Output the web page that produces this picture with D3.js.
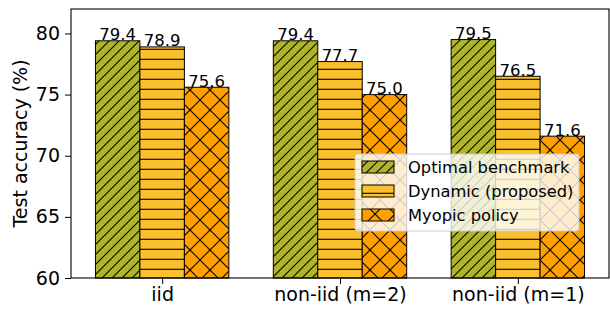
<!DOCTYPE html>
<html>
<head>
<meta charset="utf-8">
<script src="https://cdn.jsdelivr.net/npm/d3@7"></script>
<style>
  body { margin: 0; background: #fff; }
  svg { display: block; font-family: "DejaVu Sans", sans-serif; }
</style>
</head>
<body>
<svg id="chart" width="610" height="309"></svg>
<script>
// data
const categories = ["iid", "non-iid (m=2)", "non-iid (m=1)"];
const seriesNames = ["Optimal benchmark", "Dynamic (proposed)", "Myopic policy"];
const optimal = [79.4, 79.4, 79.5];
const dynamic = [78.9, 77.7, 76.5];
const myopic = [75.6, 75.0, 71.6];
const yTicks = [60, 65, 70, 75, 80];

const colors = ["#afb42b", "#fbc02d", "#ffa000"];
const hatchIds = ["h-diag", "h-horiz", "h-cross"];
const series = [optimal, dynamic, myopic];

const svg = d3.select("#chart");
const margin = { left: 71, right: 1, top: 9, bottom: 31 };
const W = 610, H = 309;
const x0 = margin.left, x1 = W - margin.right;
const y0 = H - margin.bottom, y1 = margin.top;

const x = d3.scaleLinear().domain([-0.5125, 2.5125]).range([x0, x1]);
const y = d3.scaleLinear().domain([60, 82]).range([y0, y1]);
const barW = 0.25;

// hatch patterns
const defs = svg.append("defs");
function pattern(id, size, color, lines) {
  const p = defs.append("pattern").attr("id", id)
    .attr("patternUnits", "userSpaceOnUse")
    .attr("width", size).attr("height", size);
  p.append("rect").attr("width", size).attr("height", size).attr("fill", color);
  lines.forEach(l => p.append("line")
    .attr("x1", l[0]).attr("y1", l[1]).attr("x2", l[2]).attr("y2", l[3])
    .attr("stroke", "#000").attr("stroke-width", 1.1));
}
pattern("h-diag", 10, colors[0], [[0, 10, 10, 0], [-5, 5, 5, -5], [5, 15, 15, 5]]);
pattern("h-horiz", 10, colors[1], [[0, 9.3, 10, 9.3]]);
pattern("h-cross", 20, colors[2], [[0, 20, 20, 0], [0, 0, 20, 20], [-10, 10, 10, -10], [10, 30, 30, 10], [-10, 10, 10, 30], [10, -10, 30, 10]]);

// bars
series.forEach((vals, s) => {
  const off = (s - 1) * barW;
  svg.append("g").selectAll("rect").data(vals).join("rect")
    .attr("x", (d, i) => x(i + off - barW / 2))
    .attr("width", x(barW) - x(0))
    .attr("y", d => y(d))
    .attr("height", d => y(60) - y(d))
    .attr("fill", "url(#" + hatchIds[s] + ")")
    .attr("stroke", "#000").attr("stroke-width", 1);
  svg.append("g").selectAll("text").data(vals).join("text")
    .attr("x", (d, i) => x(i + off))
    .attr("y", d => y(d) - 0.5)
    .attr("text-anchor", "middle")
    .attr("font-size", 16.5)
    .attr("fill", "#000")
    .text(d => d.toFixed(1));
});

// axes
const xAxis = d3.axisBottom(x).tickValues([0, 1, 2])
  .tickFormat(i => categories[i]).tickSize(6).tickPadding(4);
const gx = svg.append("g").attr("transform", `translate(0,${y0})`).call(xAxis);
gx.select(".domain").remove();
gx.selectAll("text").attr("font-size", 19).attr("fill", "#000")
  .attr("font-family", "DejaVu Sans");

const yAxis = d3.axisLeft(y).tickValues(yTicks).tickSize(6).tickPadding(5);
const gy = svg.append("g").attr("transform", `translate(${x0},0)`).call(yAxis);
gy.select(".domain").remove();
gy.selectAll("text").attr("font-size", 19).attr("fill", "#000")
  .attr("font-family", "DejaVu Sans");

svg.append("rect").attr("x", x0).attr("y", y1)
  .attr("width", x1 - x0).attr("height", y0 - y1)
  .attr("fill", "none").attr("stroke", "#000").attr("stroke-width", 1.1);

svg.append("text")
  .attr("transform", `translate(27,${(y0 + y1) / 2}) rotate(-90)`)
  .attr("text-anchor", "middle").attr("font-size", 19).attr("fill", "#000")
  .text("Test accuracy (%)");

// legend
const lg = svg.append("g").attr("transform", "translate(355,154)");
lg.append("rect").attr("width", 224).attr("height", 77).attr("rx", 3)
  .attr("fill", "#fff").attr("fill-opacity", 0.8)
  .attr("stroke", "#ccc").attr("stroke-width", 1);
seriesNames.forEach((name, s) => {
  const cy = 13 + s * 24;
  lg.append("rect").attr("x", 7).attr("y", cy - 6).attr("width", 32).attr("height", 12)
    .attr("fill", "url(#" + hatchIds[s] + ")").attr("stroke", "#000").attr("stroke-width", 1);
  lg.append("text").attr("x", 53).attr("y", cy + 6).attr("font-size", 16.3)
    .attr("fill", "#000").text(name);
});
</script>
</body>
</html>
